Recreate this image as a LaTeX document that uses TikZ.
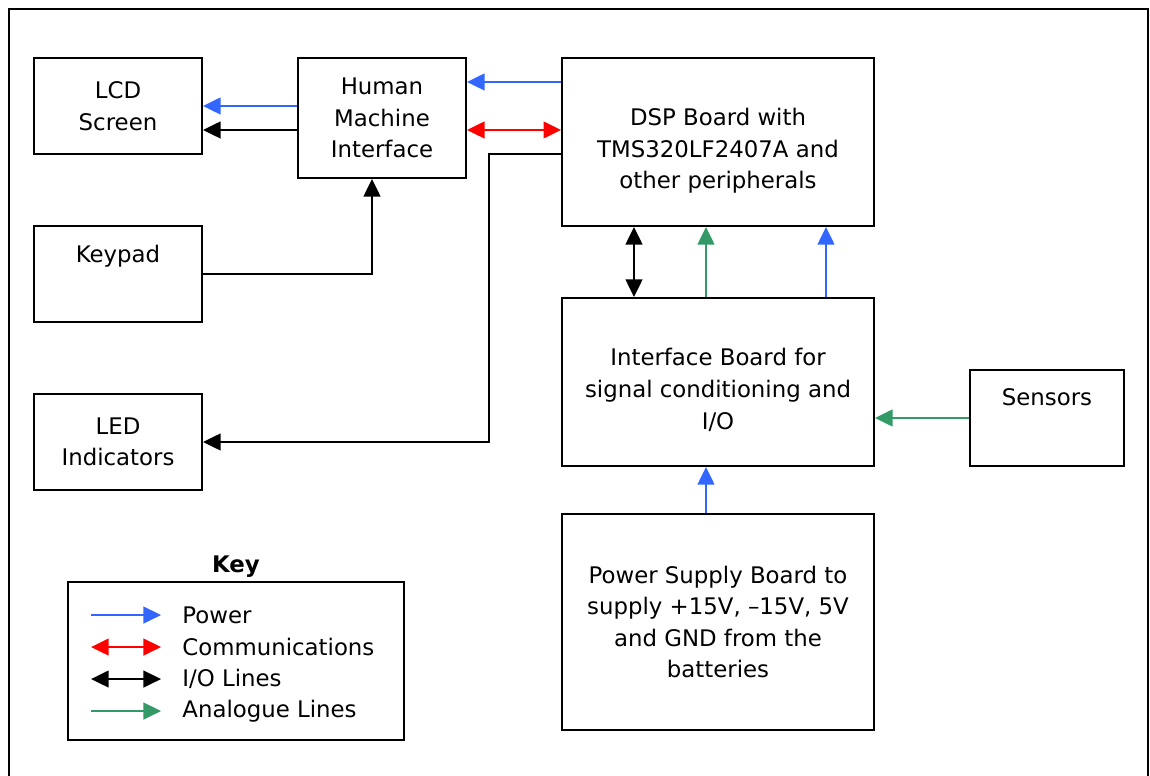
\documentclass[tikz,border=0pt]{standalone}
\usepackage{fontspec}
\setmainfont{DejaVu Sans}
\usepackage{xcolor}
\usetikzlibrary{arrows.meta, calc}

\definecolor{pwrblue}{RGB}{51,102,255}
\definecolor{comred}{RGB}{255,0,0}
\definecolor{anagreen}{RGB}{51,153,102}

\tikzset{
	box/.style={draw, line width=1.1pt, align=center, inner sep=0pt,
		font=\fontsize{13}{18}\selectfont},
	txt/.style={align=center, inner sep=0pt, font=\fontsize{13}{18}\selectfont},
	pw/.style={draw=pwrblue, line width=1.1pt, -{Triangle[length=10pt,width=9.5pt]}},
	com/.style={draw=comred, line width=1.1pt, {Triangle[length=10pt,width=9.5pt]}-{Triangle[length=10pt,width=9.5pt]}},
	io/.style={draw=black, line width=1.1pt, -{Triangle[length=10pt,width=9.5pt]}},
	iotwo/.style={draw=black, line width=1.1pt, {Triangle[length=10pt,width=9.5pt]}-{Triangle[length=10pt,width=9.5pt]}},
	ana/.style={draw=anagreen, line width=1.1pt, -{Triangle[length=10pt,width=9.5pt]}}
}

\begin{document}
\begin{tikzpicture}[x=0.02cm, y=-0.02cm, line join=miter]
				\useasboundingbox (0,0) rectangle (1150,776);
				% outer frame
				\draw[line width=1.6pt] (9,790) -- (9,9) -- (1148,9) -- (1148,790);
				
				\node[box, minimum width=3.36cm, minimum height=1.92cm] (lcd) at (118,106) {LCD\\Screen};
				\node[box, minimum width=3.36cm, minimum height=2.4cm] (hmi) at (382,118) {Human\\Machine\\Interface};
				\node[box, minimum width=6.24cm, minimum height=3.36cm] (dsp) at (718,142) {};
				\node[txt] (dsptxt) at ($(dsp)+(0,9)$) {DSP Board with\\TMS320LF2407A and\\other peripherals};
				\node[box, minimum width=3.36cm, minimum height=1.92cm] (keypad) at (118,274) {Keypad\\\strut};
				\node[box, minimum width=6.24cm, minimum height=3.36cm] (ifb) at (718,382) {};
				\node[txt] (ifbtxt) at ($(ifb)+(0,8)$) {Interface Board for\\signal conditioning and\\I/O};
				\node[box, minimum width=3.36cm, minimum height=1.92cm] (led) at (118,442) {LED\\Indicators};
				\node[box, minimum width=3.08cm, minimum height=1.92cm] (sens) at (1047,418) {Sensors\\\strut};
				\node[box, minimum width=6.24cm, minimum height=4.32cm] (psu) at (718,622) {Power Supply Board to\\supply +15V, –15V, 5V\\and GND from the\\batteries};
				
				% connections
				\draw[pw] ($(hmi.west)+(0,-12)$) coordinate (h1) -- (h1 -| lcd.east);
				\draw[io] ($(hmi.west)+(0,12)$) coordinate (h2) -- (h2 -| lcd.east);
				\draw[pw] ($(dsp.west)+(0,-60)$) coordinate (d1) -- (d1 -| hmi.east);
				\draw[com] ($(hmi.east)+(0,12)$) coordinate (h3) -- (h3 -| dsp.west);
				\draw[io] ($(dsp.west)+(0,12)$) coordinate (d2) -- ($(d2)+(-72,0)$) |- (led.east);
				\draw[io] (keypad.east) -| ($(hmi.south)+(-10,0)$);
				\draw[iotwo] ($(dsp.south)+(-84,0)$) coordinate (d3) -- (d3 |- ifb.north);
				\draw[ana] ($(ifb.north)+(-12,0)$) coordinate (i1) -- (i1 |- dsp.south);
				\draw[pw] ($(ifb.north)+(108,0)$) coordinate (i2) -- (i2 |- dsp.south);
				\draw[ana] (sens.west) -- (sens.west -| ifb.east);
				\draw[pw] ($(psu.north)+(-12,0)$) coordinate (p1) -- (p1 |- ifb.south);
				
				% key
				\node[draw, line width=1.1pt, minimum width=6.72cm, minimum height=3.16cm,
					label={[font=\fontsize{13}{18}\selectfont\bfseries, inner sep=2pt]above:Key}] (key) at (236,661) {};
				\foreach \i/\dy/\sty/\txt in {1/34/pw/Power, 2/66/com/Communications, 3/98/iotwo/{I/O Lines}, 4/130/ana/Analogue Lines}{
					\coordinate (ka\i) at ($(key.north west)+(24,\dy)$);
					\coordinate (kb\i) at ($(ka\i)+(70,0)$);
					\draw[\sty] (ka\i) -- (kb\i);
					\node[anchor=west, inner sep=0pt, font=\fontsize{13}{18}\selectfont] (kt\i) at ($(kb\i)+(21,0)$) {\txt};
				}
\end{tikzpicture}
\end{document}
